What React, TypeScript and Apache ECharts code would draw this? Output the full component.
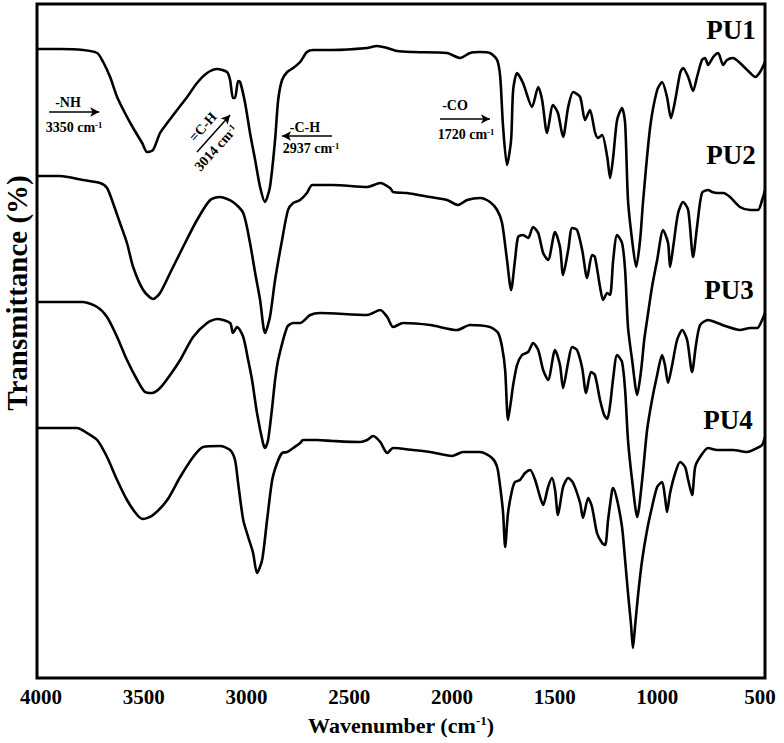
import React, { useEffect, useRef } from "react";
import * as echarts from "echarts";

// Tick labels of the wavenumber axis (cm-1)
const X_TICKS = [4000, 3500, 3000, 2500, 2000, 1500, 1000, 500];
const SERIES_NAMES = ["PU1", "PU2", "PU3", "PU4"];

// [wavenumber (cm-1), transmittance (a.u., offset spectra)]
const PU1: [number, number][] = [
  [4020, 125.8], [3907, 125.8], [3796, 125.6], [3727, 125], [3698, 123.2], [3664, 120.2], [3630, 116.2],
  [3592, 113], [3552, 110], [3508, 107], [3484, 105.2], [3455, 105.6], [3421, 109], [3386, 111],
  [3338, 113.6], [3289, 116.2], [3241, 119], [3192, 121], [3143, 121.8], [3095, 121.2], [3080, 119.6],
  [3066, 116], [3056, 116], [3041, 119.4], [3031, 119.2], [3007, 115], [2983, 109], [2958, 103.6],
  [2934, 98.2], [2910, 95.2], [2886, 98.2], [2861, 107.6], [2846, 115.6], [2827, 119.6], [2802, 121.2],
  [2773, 122], [2739, 123.2], [2706, 125.2], [2676, 125.6], [2579, 125.6], [2413, 126], [2365, 126.4],
  [2315, 126], [2267, 125.4], [2190, 125.2], [2024, 125], [1960, 124], [1912, 125], [1863, 125.2],
  [1815, 125], [1780, 123.6], [1765, 120.2], [1751, 110.2], [1732, 102.6], [1712, 107.6], [1702, 117.6],
  [1683, 121], [1654, 119], [1610, 114.2], [1580, 118.2], [1561, 115.6], [1537, 109], [1508, 114.6],
  [1484, 113], [1459, 108.2], [1434, 114.2], [1410, 117.2], [1376, 116.2], [1352, 111.6], [1328, 113.6],
  [1304, 109.2], [1289, 108], [1269, 108.6], [1244, 104.2], [1230, 100], [1215, 104.2], [1196, 111.6],
  [1172, 114], [1157, 111], [1143, 95.6], [1123, 87.6], [1103, 82.2], [1084, 87.6], [1069, 95.6],
  [1035, 110.2], [1001, 117.6], [977, 119.2], [953, 116.2], [934, 112], [913, 115.6], [889, 121],
  [875, 122], [850, 120.2], [826, 117.4], [807, 120.2], [783, 123.6], [768, 124], [753, 122.6],
  [728, 124.2], [704, 125], [680, 122.6], [661, 123.6], [632, 124], [598, 123], [548, 121], [524, 120.2],
  [500, 121.2], [476, 123.2],
];

const PU2: [number, number][] = [
  [4020, 100.4], [3907, 100.4], [3796, 99.6], [3713, 99], [3679, 98], [3650, 95], [3616, 91], [3582, 87],
  [3552, 82.2], [3503, 77.6], [3455, 75.8], [3421, 77], [3372, 81], [3309, 86.2], [3241, 91.6],
  [3177, 95.6], [3129, 96.2], [3066, 95.2], [3016, 93], [2983, 87], [2958, 81], [2934, 75.6], [2910, 69],
  [2886, 72.2], [2861, 79.6], [2827, 87.6], [2798, 93.6], [2773, 95], [2739, 95.6], [2706, 97],
  [2680, 98.6], [2579, 98.6], [2413, 98.2], [2349, 99], [2301, 98], [2286, 97.2], [2219, 97],
  [2106, 96.2], [2024, 95.6], [1970, 94.6], [1926, 95.6], [1863, 96], [1815, 95.2], [1780, 93.6],
  [1756, 91], [1732, 83.6], [1712, 77.6], [1693, 83.6], [1678, 88.2], [1654, 88.6], [1629, 88],
  [1605, 90.2], [1580, 89], [1556, 85], [1532, 83.6], [1498, 89.2], [1474, 86.2], [1459, 80.6],
  [1434, 85.6], [1415, 90], [1391, 89.6], [1366, 85.6], [1342, 80], [1318, 84.6], [1304, 84.2],
  [1279, 78.2], [1264, 75.6], [1244, 77], [1230, 76.6], [1215, 83.6], [1196, 88.6], [1172, 87],
  [1157, 81.6], [1143, 70.2], [1123, 63.6], [1098, 56.6], [1079, 61.6], [1064, 67.6], [1050, 71.6],
  [1026, 78.2], [1001, 83.6], [972, 89.6], [948, 87], [938, 82.2], [923, 86.2], [899, 93], [875, 95.2],
  [850, 93.6], [826, 84.2], [807, 90.2], [783, 97], [753, 97.6], [733, 97.2], [709, 97], [680, 97],
  [646, 96.2], [598, 94.2], [548, 93.6], [510, 93.6], [490, 95.6], [476, 97.6],
];

const PU3: [number, number][] = [
  [4020, 75.2], [3907, 75.2], [3796, 75.2], [3727, 74.2], [3679, 72.2], [3630, 68.2], [3582, 63.6],
  [3532, 59.6], [3494, 57.2], [3460, 57], [3421, 58], [3372, 60.6], [3323, 63.6], [3260, 68.2],
  [3192, 71], [3143, 71.8], [3080, 71], [3066, 69], [3046, 70.2], [3016, 68.2], [2992, 63.6],
  [2973, 59.6], [2949, 53], [2920, 47], [2910, 46], [2895, 47.6], [2875, 54.2], [2861, 59.6],
  [2846, 63.6], [2802, 70.2], [2773, 71], [2739, 71], [2690, 72.6], [2642, 73], [2413, 72.6],
  [2349, 73.6], [2315, 72.2], [2286, 70.2], [2238, 71], [2106, 70.6], [1975, 69.6], [1912, 70.6],
  [1815, 70.2], [1775, 69], [1756, 66.2], [1741, 61.6], [1727, 51.6], [1712, 55.6], [1702, 58.6],
  [1683, 62.6], [1659, 64.6], [1629, 65.2], [1605, 67], [1580, 65.6], [1556, 61.6], [1532, 59.6],
  [1498, 65.6], [1474, 62.6], [1459, 58], [1434, 63.2], [1415, 66.2], [1391, 65.6], [1366, 62],
  [1347, 57], [1323, 61.2], [1304, 60.6], [1279, 55.6], [1259, 52.6], [1244, 51.8], [1230, 54.6],
  [1215, 60], [1196, 64.6], [1172, 63.2], [1157, 57.6], [1143, 47.6], [1123, 39.6], [1098, 32.2],
  [1074, 39.6], [1050, 49.6], [1026, 55.6], [1001, 60.6], [977, 64.6], [963, 62.6], [948, 59],
  [928, 62.6], [904, 67.6], [879, 69.6], [855, 67.6], [831, 61.2], [812, 66.6], [792, 70.6],
  [753, 71.6], [719, 71.2], [670, 70.4], [598, 69.6], [548, 70], [514, 70], [490, 71.6], [476, 73],
];

const PU4: [number, number][] = [
  [4020, 50], [3873, 50], [3825, 50], [3776, 49], [3727, 47.6], [3679, 44.2], [3630, 39.6], [3582, 35.6],
  [3532, 32.6], [3503, 31.8], [3455, 32.6], [3386, 35.6], [3323, 40.2], [3260, 44.2], [3211, 46.2],
  [3129, 46.4], [3080, 45.6], [3056, 43.6], [3041, 39], [3016, 31.6], [2992, 28.2], [2968, 25],
  [2949, 21], [2924, 23.6], [2900, 31.6], [2875, 39.6], [2851, 43], [2827, 45], [2802, 45.2],
  [2773, 46], [2739, 47], [2725, 47.6], [2656, 47.6], [2579, 47.4], [2447, 47.2], [2413, 47.6],
  [2384, 48.4], [2349, 47.2], [2315, 45], [2286, 46], [2190, 45.6], [2106, 45.2], [2000, 44.4],
  [1946, 45.2], [1863, 45.2], [1805, 44], [1780, 42.2], [1765, 38.2], [1751, 33], [1741, 26.2],
  [1727, 33], [1707, 37.6], [1693, 39.2], [1669, 39.6], [1644, 41], [1619, 41.6], [1595, 39.6],
  [1571, 36.2], [1556, 34.6], [1532, 38.2], [1513, 40], [1498, 37.6], [1484, 32.6], [1459, 38.2],
  [1434, 40], [1410, 39], [1376, 35], [1362, 32], [1337, 36], [1318, 34.2], [1294, 29], [1269, 27],
  [1254, 26.6], [1240, 31.6], [1220, 37.6], [1215, 38], [1196, 35.6], [1172, 30.2], [1157, 23.6],
  [1143, 17], [1128, 10.6], [1119, 6], [1108, 10.6], [1093, 17], [1074, 23.6], [1050, 29.6],
  [1026, 34.2], [1001, 38.2], [977, 39.2], [963, 36.2], [953, 33.2], [938, 37], [913, 41], [889, 43.2],
  [865, 42.2], [850, 39.6], [831, 36.6], [816, 42.2], [792, 44.2], [753, 46], [709, 45.6], [632, 45.6],
  [564, 45.2], [514, 46], [490, 46.6], [476, 48.2],
];

const SERIES_DATA = [PU1, PU2, PU3, PU4];

// annotation arrows: [from, to] in [wavenumber, transmittance]
const ARROWS: [[number, number], [number, number]][] = [
  [[3961, 113.2], [3717, 113.2]],
  [[3241, 105.2], [3080, 112.6]],
  [[2584, 108.4], [2827, 108.4]],
  [[2058, 111.8], [1815, 111.8]],
];

const SERIF = "'Liberation Serif', 'Times New Roman', serif";

export default function App() {
  const ref = useRef<HTMLDivElement>(null);
  useEffect(() => {
    if (!ref.current) return;
    const chart = echarts.init(ref.current, undefined, { renderer: "svg" });

    const annRich = (size: number) => ({
      a: { fontSize: size, fontWeight: "bold", fontFamily: SERIF, fill: "#000" },
      b: { fontSize: size * 0.62, fontWeight: "bold", fontFamily: SERIF, fill: "#000", verticalAlign: "top" },
    });
    const annText = (x: number, y: number, text: string, rot = 0) => ({
      type: "text",
      x,
      y,
      rotation: (rot * Math.PI) / 180,
      silent: true,
      style: {
        text,
        rich: annRich(14),
        align: "center",
        verticalAlign: "middle",
        fontSize: 14,
        fontWeight: "bold",
        fontFamily: SERIF,
        fill: "#000",
      },
    });
    const puLabel = (x: number, y: number, text: string) => ({
      type: "text",
      x,
      y,
      silent: true,
      style: {
        text,
        align: "center",
        verticalAlign: "middle",
        fontSize: 27,
        fontWeight: "bold",
        fontFamily: SERIF,
        fill: "#000",
      },
    });

    chart.setOption({
      animation: false,
      backgroundColor: "#fff",
      grid: {
        left: 37,
        right: 19,
        top: 4,
        bottom: 65,
        show: true,
        borderColor: "#000",
        borderWidth: 3,
        containLabel: false,
        outerBoundsMode: "none",
      },
      xAxis: {
        type: "value",
        inverse: true,
        min: 476,
        max: 4020,
        axisLine: { show: false },
        axisTick: { show: false },
        splitLine: { show: false },
        axisLabel: {
          customValues: X_TICKS,
          formatter: (v: number) => String(v),
          alignMinLabel: "center",
          alignMaxLabel: "center",
          fontFamily: SERIF,
          fontWeight: "bold",
          fontSize: 21,
          color: "#000",
          margin: 8,
        },
        name: "{t|Wavenumber (cm}{s|-1}{t|)}",
        nameLocation: "middle",
        nameGap: 36,
        nameTextStyle: {
          rich: {
            t: { fontSize: 22, fontWeight: "bold", fontFamily: SERIF, color: "#000" },
            s: { fontSize: 13, fontWeight: "bold", fontFamily: SERIF, color: "#000", verticalAlign: "top" },
          },
        },
      },
      yAxis: {
        type: "value",
        min: 0,
        max: 134.8,
        axisLine: { show: false },
        axisTick: { show: false },
        axisLabel: { show: false },
        splitLine: { show: false },
        name: "Transmittance (%)",
        nameLocation: "middle",
        nameGap: 6,
        nameRotate: 90,
        nameTextStyle: {
          fontSize: 29,
          fontWeight: "bold",
          fontFamily: SERIF,
          color: "#000",
          padding: [0, 0, 0, 96],
        },
      },
      series: SERIES_DATA.map((d, i) => ({
        name: SERIES_NAMES[i],
        type: "line",
        data: d,
        showSymbol: false,
        smooth: 0.25,
        lineStyle: { color: "#000", width: 2.6 },
        z: 3,
        markLine:
          i === 0
            ? {
                silent: true,
                symbol: ["none", "arrow"],
                symbolSize: [7, 9],
                label: { show: false },
                lineStyle: { color: "#000", width: 1.5, type: "solid" },
                data: ARROWS.map(([a, b]) => [{ coord: a }, { coord: b }]),
              }
            : undefined,
      })),
      graphic: [
        annText(68, 102, "-NH"),
        annText(74, 127, "{a|3350 cm}{b|-1}"),
        annText(203, 127, "=C-H", 48),
        annText(216, 148, "{a|3014 cm}{b|-1}", 48),
        annText(305, 127, "-C-H"),
        annText(311, 148, "{a|2937 cm}{b|-1}"),
        annText(455, 105, "-CO"),
        annText(466, 134, "{a|1720 cm}{b|-1}"),
        puLabel(731, 30, "PU1"),
        puLabel(731, 155, "PU2"),
        puLabel(729, 290, "PU3"),
        puLabel(728, 420, "PU4"),
      ],
    });
    return () => chart.dispose();
  }, []);
  return <div ref={ref} style={{ width: 784, height: 743, position: "absolute", left: 0, top: 0 }} />;
}
